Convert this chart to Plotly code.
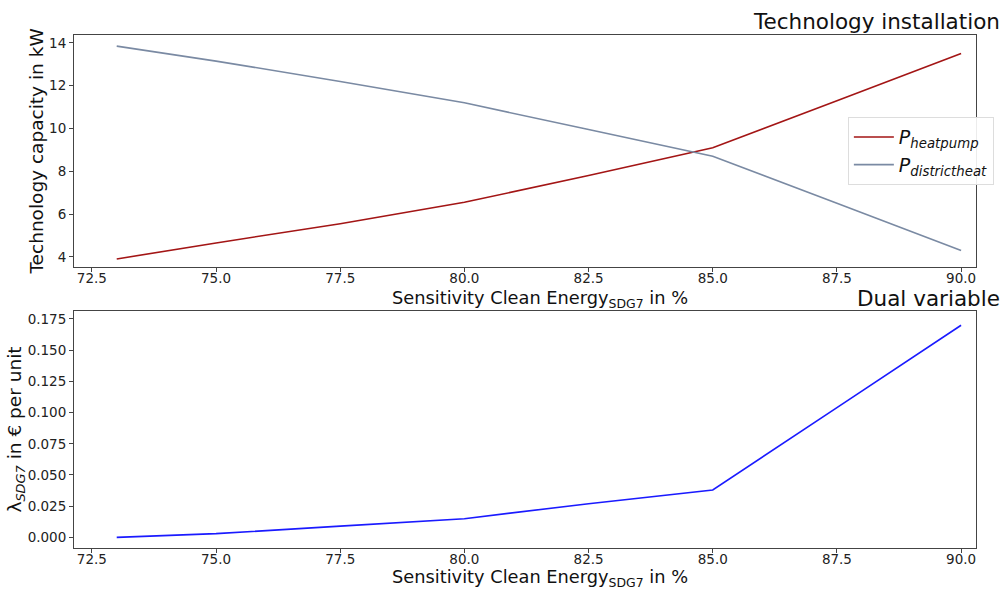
import plotly.graph_objects as go
from plotly.subplots import make_subplots

sensitivity = [73, 75, 77.5, 80, 82.5, 85, 87.5, 90]
p_heatpump = [3.9, 4.65, 5.55, 6.55, 7.8, 9.1, 11.3, 13.5]
p_districtheat = [13.85, 13.15, 12.2, 11.2, 9.95, 8.7, 6.5, 4.3]
dual_sdg7 = [0.0, 0.003, 0.009, 0.015, 0.027, 0.038, 0.104, 0.170]

x_ticks = [72.5, 75.0, 77.5, 80.0, 82.5, 85.0, 87.5, 90.0]
y1_ticks = [4, 6, 8, 10, 12, 14]
y2_ticks = [0.0, 0.025, 0.05, 0.075, 0.1, 0.125, 0.15, 0.175]

FONT = "DejaVu Sans"
fig = make_subplots(rows=2, cols=1)

fig.add_trace(go.Scatter(x=sensitivity, y=p_heatpump, mode="lines",
                         line=dict(color="#a31515", width=1.6),
                         name="<i>P</i><sub><i>heatpump</i></sub>"), row=1, col=1)
fig.add_trace(go.Scatter(x=sensitivity, y=p_districtheat, mode="lines",
                         line=dict(color="#7a8aa3", width=1.6),
                         name="<i>P</i><sub><i>districtheat</i></sub>"), row=1, col=1)
fig.add_trace(go.Scatter(x=sensitivity, y=dual_sdg7, mode="lines",
                         line=dict(color="#1a1aff", width=1.6),
                         showlegend=False), row=2, col=1)

axis_common = dict(showline=True, mirror=True, linecolor="#444", linewidth=1,
                   ticks="outside", ticklen=4, tickcolor="#444", showgrid=False,
                   zeroline=False, automargin=False,
                   tickfont=dict(family=FONT, size=13.5, color="#222"))

fig.update_xaxes(**axis_common, range=[72.14, 90.3], tickvals=x_ticks,
                 ticktext=[f"{v:.1f}" for v in x_ticks], ticklabelstandoff=-5)
fig.update_yaxes(**axis_common)
fig.update_yaxes(range=[3.53, 14.37], tickvals=y1_ticks, ticktext=[str(v) for v in y1_ticks],
                 title=dict(text="Technology capacity in kW", font=dict(family=FONT, size=18.5, color="#111"), standoff=0),
                 domain=[0.548, 1.0], row=1, col=1)
fig.update_yaxes(range=[-0.0085, 0.1814], tickvals=y2_ticks, ticktext=[f"{v:.3f}" for v in y2_ticks],
                 title=dict(text="λ<sub><i>SDG7</i></sub> in € per unit", font=dict(family=FONT, size=18.5, color="#111"), standoff=0),
                 domain=[0.0, 0.462], row=2, col=1)

xtitle = "Sensitivity Clean Energy<sub>SDG7</sub> in %"
for ypos in (0.486, -0.0578):
    fig.add_annotation(text=xtitle, xref="paper", yref="paper", x=0.5166, y=ypos,
                       xanchor="center", yanchor="middle", showarrow=False, borderpad=0,
                       font=dict(family=FONT, size=17.8, color="#111"))

fig.add_annotation(text="Technology installation", xref="paper", yref="paper", x=1.0288, y=1.0,
                   xanchor="right", yanchor="bottom", yshift=-1, showarrow=False,
                   font=dict(family=FONT, size=21.5, color="#111"))
fig.add_annotation(text="Dual variable", xref="paper", yref="paper", x=1.0288, y=0.462,
                   xanchor="right", yanchor="bottom", yshift=-2, showarrow=False,
                   font=dict(family=FONT, size=21.5, color="#111"))

fig.update_layout(
    width=1005, height=589,
    margin=dict(l=74, r=28, t=35, b=41),
    paper_bgcolor="white", plot_bgcolor="white",
    showlegend=True,
    legend=dict(x=0.857, y=0.840, xanchor="left", yanchor="top",
                bgcolor="rgba(255,255,255,0.9)", bordercolor="#ddd", borderwidth=1,
                itemwidth=40, tracegroupgap=2,
                font=dict(family=FONT, size=19, color="#111")),
)

fig.write_html("out.html")
